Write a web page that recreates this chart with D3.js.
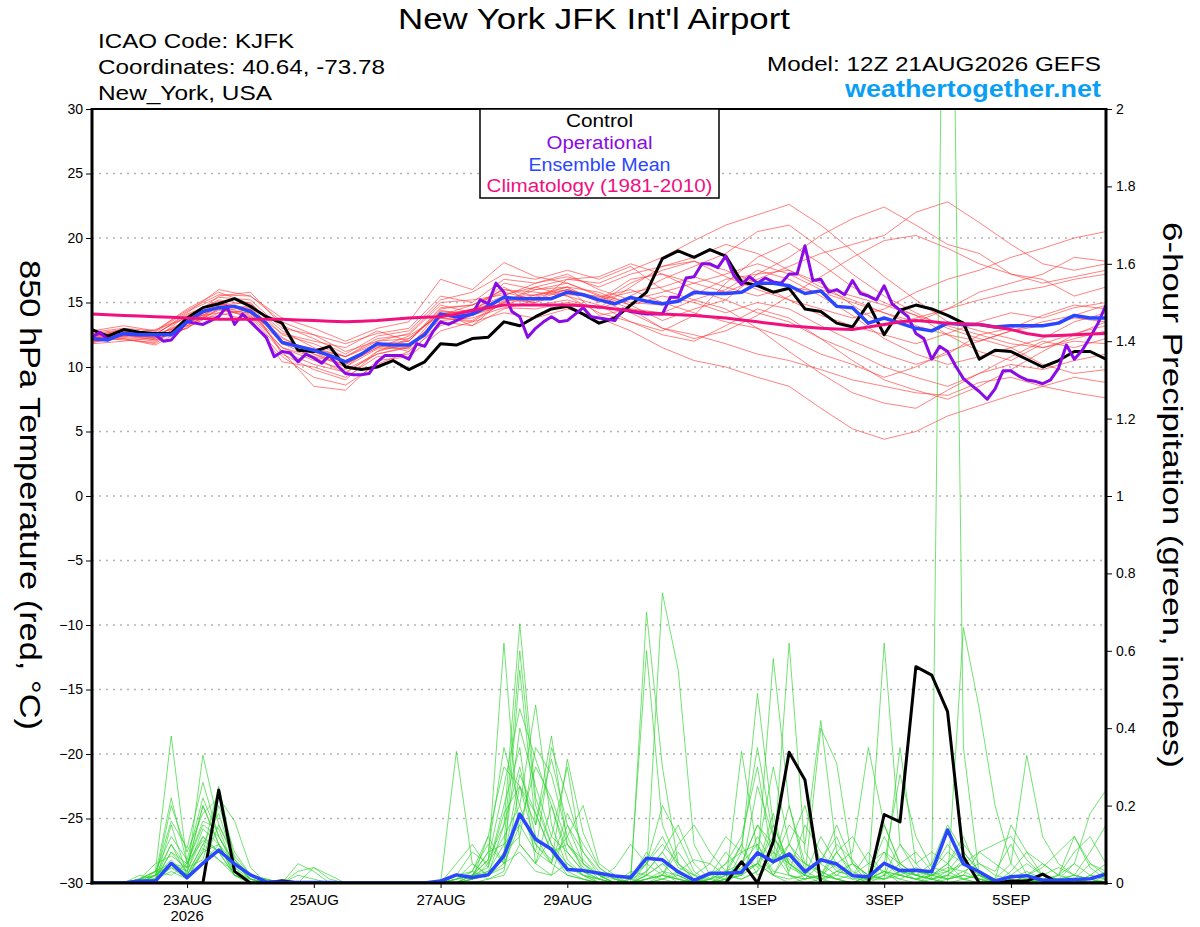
<!DOCTYPE html>
<html>
<head>
<meta charset="utf-8">
<title>New York JFK Int'l Airport</title>
<script src="https://d3js.org/d3.v7.min.js"></script>
<style>
  html, body { margin: 0; padding: 0; background: #fff; }
  svg text { font-family: "Liberation Sans", Arial, Helvetica, sans-serif; }
</style>
</head>
<body>
<div id="chart"></div>
<script>
// forecast hours since 12Z 21AUG2026 (GEFS run), 0..384
var forecastHours = 384;

// date ticks on the time axis (hours after 12Z 21AUG)
var tickHours  = [36, 84, 132, 180, 252, 300, 348];
var tickLabels = ['23AUG', '25AUG', '27AUG', '29AUG', '1SEP', '3SEP', '5SEP'];
var tickYear   = '2026';

var tempTicks   = [-30, -25, -20, -15, -10, -5, 0, 5, 10, 15, 20, 25, 30];
var precipTicks = [0, 0.2, 0.4, 0.6, 0.8, 1, 1.2, 1.4, 1.6, 1.8, 2];

// 850 hPa temperature, 6-hourly
var controlTemp = [12.9,12.4,12.9,12.7,12.6,12.6,13.8,14.6,14.9,15.3,14.7,13.9,13.4,11.3,11.2,11.6,10.0,9.8,10.0,10.5,9.8,10.4,11.8,11.7,12.2,12.3,13.5,13.2,13.9,14.5,14.7,14.1,13.4,13.8,14.8,15.8,18.4,19.0,18.5,19.1,18.6,16.6,16.3,15.8,16.1,14.5,14.3,13.4,13.1,14.9,12.5,14.4,14.8,14.5,14.0,13.4,10.6,11.3,11.2,10.6,10.0,10.5,11.2,11.2,10.6];
var meanTemp = [12.2,12.1,12.6,12.5,12.5,12.5,13.5,14.3,14.6,14.7,14.3,13.4,11.9,11.6,11.3,10.9,10.4,11.0,11.8,11.7,11.7,12.5,14.1,13.9,14.1,14.7,15.4,15.3,15.3,15.3,15.8,15.6,15.2,14.9,15.4,15.1,14.9,15.1,15.8,15.7,15.7,15.8,16.5,16.5,16.3,15.7,15.9,14.7,14.6,13.4,13.8,13.4,13.0,12.8,13.4,13.3,13.3,13.1,13.2,13.2,13.2,13.4,14.0,13.8,13.8];
var climoTemp = [14.1,14.05,14.0,13.95,13.9,13.85,13.8,13.75,13.7,13.7,13.7,13.7,13.7,13.65,13.6,13.55,13.5,13.55,13.6,13.7,13.8,13.85,13.9,14.1,14.4,14.6,14.8,14.8,14.8,14.8,14.8,14.75,14.65,14.5,14.35,14.2,14.1,14.05,14.0,13.9,13.8,13.65,13.5,13.35,13.2,13.1,13.0,12.95,12.9,13.1,13.3,13.5,13.6,13.5,13.4,13.35,13.3,13.1,12.9,12.6,12.4,12.45,12.5,12.55,12.6];

// operational run, 3-hourly
var operationalTemp = [12.3,12.7,12.1,12.4,12.6,12.5,12.5,12.5,12.5,12.0,12.1,12.8,13.5,13.4,13.3,13.6,13.9,14.7,13.3,14.1,13.5,12.9,12.3,10.8,11.2,11.1,10.4,11.0,10.7,10.3,10.9,10.1,9.5,9.4,9.4,9.5,10.4,10.9,10.9,10.9,10.6,11.8,11.6,12.7,13.5,13.3,13.6,13.9,14.1,15.2,14.9,16.5,15.8,14.3,13.9,12.3,13.0,13.5,13.9,13.5,13.6,14.1,14.6,13.9,13.8,13.7,13.6,14.5,14.3,14.2,14.1,14.1,14.1,15.4,15.4,16.9,17.0,18.0,18.0,17.7,18.6,17.1,16.4,17.0,16.5,16.9,16.6,16.5,17.2,17.2,19.4,16.7,16.8,15.8,16.0,15.6,16.7,15.7,15.5,15.2,16.3,14.9,14.4,13.9,12.6,12.2,10.6,11.6,11.2,10.1,9.1,8.6,8.1,7.5,8.3,9.7,9.7,9.3,9.0,8.9,8.7,9.0,9.9,11.7,10.6,11.3,12.3,13.4,14.8];

// ensemble members, 12-hourly
var memberTemps = [
  [12.3,12.8,12.2,14.0,15.2,14.8,12.0,11.0,10.2,11.5,12.0,14.5,14.8,16.0,15.5,16.2,15.0,16.5,17.5,18.2,17.0,16.0,15.2,14.0,13.2,12.5,11.8,12.6,13.5,14.2,13.8,14.6,15.0],
  [12.0,12.4,12.6,13.2,14.5,14.0,11.5,10.5,9.8,11.0,11.5,13.8,13.5,15.0,16.2,15.5,14.2,13.5,12.8,14.0,16.5,18.5,19.6,18.0,16.2,15.0,14.0,12.5,11.2,10.5,11.8,12.6,13.2],
  [12.5,12.2,11.8,13.6,15.5,15.8,13.2,12.2,11.0,12.4,12.8,15.2,15.8,17.2,16.8,17.5,16.8,17.8,16.0,15.2,14.5,13.0,11.2,9.5,8.0,7.2,6.8,8.2,9.5,10.8,12.0,11.5,12.2],
  [12.2,12.6,12.9,13.8,14.2,13.6,10.8,9.2,8.6,10.2,11.2,13.2,14.0,14.8,15.6,16.2,15.8,14.8,13.6,14.5,15.2,17.2,18.5,20.2,21.5,22.4,21.0,19.5,18.8,17.2,16.5,17.0,17.5],
  [11.8,12.0,12.3,13.0,14.8,15.0,12.5,11.8,10.8,12.2,12.5,14.8,14.2,16.2,14.8,15.2,14.5,15.5,16.8,17.8,18.8,20.5,21.0,19.2,17.2,15.5,14.2,13.0,12.2,11.5,10.2,9.5,9.8],
  [12.6,12.9,12.5,14.2,16.0,15.5,13.8,13.0,12.0,13.0,13.5,16.8,16.0,18.1,17.0,16.5,15.5,14.5,13.0,12.2,12.8,14.0,15.5,17.0,18.5,19.8,20.2,19.2,18.0,17.2,16.8,15.5,16.2],
  [12.4,12.7,12.4,13.5,14.0,14.5,11.2,8.5,8.2,10.5,10.8,12.8,13.5,14.2,13.8,14.5,13.8,12.8,11.5,10.5,10.0,9.2,8.5,6.8,5.2,4.4,5.0,6.2,7.0,7.8,8.5,9.2,8.8],
  [12.1,12.5,12.1,13.3,15.0,14.2,12.2,11.2,10.0,11.8,11.2,14.0,14.5,15.5,16.5,17.2,16.0,15.2,15.8,16.5,17.2,18.0,17.2,16.0,15.2,14.2,13.5,14.5,15.8,16.5,17.2,18.5,18.2],
  [12.3,12.1,11.9,13.8,14.8,14.6,11.8,10.8,9.5,11.2,12.2,14.2,13.2,15.2,15.0,16.8,16.5,17.5,18.5,19.8,21.0,21.8,22.6,21.0,19.0,17.0,15.2,13.5,12.8,12.2,11.5,12.0,11.8],
  [12.7,13.0,12.8,14.5,15.8,14.9,12.8,11.5,10.8,11.8,12.0,14.6,14.8,16.0,15.8,15.5,14.8,13.5,12.5,12.0,13.2,14.5,13.8,12.2,10.5,9.0,8.2,7.5,8.5,9.8,11.2,12.5,13.5],
  [11.9,12.3,12.0,13.4,14.6,13.8,10.4,10.0,9.2,10.8,11.0,13.5,13.2,14.5,15.2,16.0,15.2,16.8,17.2,16.5,15.8,16.8,17.8,18.8,19.5,20.2,22.0,22.8,21.2,19.5,18.0,17.5,18.0],
  [12.2,12.5,12.3,13.2,14.4,14.2,11.5,10.8,10.2,11.5,12.4,14.0,14.8,15.8,15.2,15.6,15.5,14.8,15.5,15.0,14.2,15.0,14.5,13.2,12.0,11.0,10.2,11.0,12.5,13.0,14.0,14.8,14.5],
  [12.5,12.8,12.6,13.9,14.9,14.4,12.6,12.0,11.5,12.8,12.0,14.3,14.2,16.5,16.0,16.2,14.0,14.5,14.2,15.2,16.0,17.5,16.8,15.5,14.0,12.2,11.0,10.2,10.8,11.5,12.2,13.5,14.2],
  [12.0,12.2,11.7,13.1,14.2,14.8,11.0,9.8,9.0,11.2,11.8,13.6,13.8,14.6,14.5,15.0,14.6,16.2,17.8,18.5,19.5,18.8,17.5,16.5,14.8,13.2,13.8,14.5,15.2,15.8,16.2,16.8,17.2],
  [12.6,12.4,12.7,14.3,15.4,15.2,13.0,12.5,11.2,12.0,12.6,15.0,15.2,15.6,16.2,16.8,17.0,18.0,17.2,16.0,15.2,14.2,13.5,12.2,11.2,10.0,9.2,8.5,9.5,10.2,9.8,10.5,11.0],
  [12.3,12.6,12.4,13.6,14.7,14.1,11.9,11.2,10.5,11.6,11.4,14.1,14.4,15.3,15.6,16.0,15.2,15.8,16.2,17.0,16.2,15.5,16.2,15.8,15.0,14.2,13.2,12.5,12.0,12.8,13.2,13.8,13.5],
  [12.4,12.9,12.5,14.1,15.1,14.4,12.3,11.0,10.0,11.4,11.5,14.4,14.0,15.0,16.0,16.5,15.6,15.0,14.8,15.6,16.8,17.2,17.5,16.2,15.5,14.8,14.0,13.2,12.5,11.8,11.5,12.2,12.8],
  [11.9,12.4,12.1,13.0,14.5,13.9,11.2,10.2,9.6,11.0,11.6,13.8,13.6,15.1,15.4,16.0,15.4,16.0,15.0,14.2,13.5,13.0,12.2,11.0,10.2,9.2,10.0,11.2,12.0,12.8,13.5,14.0,14.8],
  [12.8,13.2,12.8,14.4,15.6,15.5,13.5,12.5,11.8,12.6,13.0,15.5,15.0,16.8,16.5,17.0,16.2,17.2,17.8,18.2,17.5,16.5,15.2,14.5,13.8,14.5,15.8,16.8,17.5,18.5,19.2,20.0,20.5],
  [12.1,12.5,12.2,13.4,14.7,14.5,12.0,11.4,10.8,12.0,12.2,14.2,14.2,15.4,15.0,15.8,15.2,14.2,13.0,12.5,11.8,11.0,10.5,9.8,9.0,8.5,8.0,7.8,8.8,9.2,8.5,8.0,7.6]
];

// 6-hour precipitation (inches), 6-hourly
var controlPrecip = [0,0,0,0,0,0,0,0,0.24,0.03,0,0,0.006,0,0,0,0,0,0,0,0,0,0,0,0,0,0,0,0,0,0,0,0,0,0,0,0,0,0,0,0,0.055,0,0.107,0.338,0.266,0,0,0,0,0.177,0.158,0.559,0.537,0.443,0.068,0,0,0.005,0.005,0.023,0,0,0,0];
var meanPrecip = [0,0,0,0.005,0.005,0.051,0.014,0.051,0.085,0.049,0.021,0.003,0.002,0.001,0.001,0.001,0,0,0,0,0,0,0.005,0.021,0.014,0.021,0.07,0.178,0.113,0.087,0.035,0.032,0.025,0.018,0.014,0.064,0.06,0.029,0.007,0.025,0.025,0.028,0.078,0.055,0.075,0.029,0.06,0.049,0.019,0.016,0.051,0.032,0.033,0.029,0.137,0.049,0.029,0.005,0.016,0.019,0.007,0.007,0.009,0.011,0.023];

var memberPrecips = [
  [0,0,0,0.01,0.03,0.38,0.05,0.12,0.08,0.02,0,0,0, 0,0,0,0,0,0,0,0,0,0,0.01,0.05,0.02, 0.15,0.67,0.22,0.1,0.03,0.01,0,0,0,0.02,0.05,0.01,0, 0,0.01,0.05,0.1,0.03,0.02,0,0.01,0.08,0.02,0,0.05,0.03, 0.01,0,0.02,0.06,0.01,0,0,0.01,0,0,0,0.02,0.05],
  [0,0,0,0,0.01,0.1,0.02,0.33,0.15,0.06,0.01,0,0, 0,0,0,0,0,0,0,0,0,0,0,0.02,0.08, 0.35,0.2,0.46,0.15,0.04,0.02,0,0,0.01,0.08,0.03,0,0, 0.01,0.03,0.02,0.12,0.05,0.62,0.08,0.02,0.01,0,0.01,0.03,0.01, 0,0.02,0.03,0.01,0,0,0,0,0.02,0,0,0,0],
  [0,0,0,0.02,0.01,0.2,0.08,0.18,0.22,0.16,0.04,0,0, 0.05,0.03,0,0,0,0,0,0,0,0,0.02,0.01,0.12, 0.05,0.55,0.15,0.38,0.1,0.05,0.02,0,0,0,0.01,0,0.01, 0,0,0.34,0.08,0.02,0,0.01,0.02,0.01,0,0.02,0.01,0.35, 0.05,0.01,0,0.01,0.02,0,0,0.02,0.01,0,0,0.02,0.01],
  [0,0,0,0,0,0.15,0.02,0.08,0.25,0.06,0.02,0.01,0, 0,0,0,0,0,0,0,0,0,0,0.01,0.03,0.01, 0.03,0.25,0.1,0.05,0.32,0.13,0.04,0.01,0,0.7,0.3,0.05,0.01, 0,0.02,0.01,0.03,0.15,0.05,0.01,0.02,0.08,0.12,0.05,0.03,0, 0,0.01,3.5,0.35,0.02,0,0,0,0.01,0,0,0,0],
  [0,0,0,0.01,0.05,0.07,0.04,0.2,0.1,0.03,0,0,0, 0,0.04,0.02,0,0,0,0,0,0,0,0.05,0.1,0.04, 0.2,0.35,0.05,0.2,0.08,0.03,0.01,0,0.03,0.02,0.75,0.55,0.1, 0.02,0.01,0.03,0.05,0.12,0.04,0.02,0,0.03,0.05,0.02,0.01,0.03, 0.02,0.01,0,0.66,0.45,0.2,0.05,0.01,0,0,0,0,0.02],
  [0,0,0,0,0.02,0.16,0.09,0.26,0.12,0.05,0.01,0,0, 0,0,0,0,0,0,0,0,0,0,0,0.01,0.03, 0.1,0.15,0.3,0.22,0.1,0.06,0.02,0,0.01,0.05,0.12,0.04,0.02, 0.01,0,0.08,0.49,0.15,0.05,0.02,0.4,0.31,0.05,0,0.02,0.05, 0.08,0.03,0.01,0.02,0.08,0.1,0.12,0.06,0.02,0,0,0.01,0.02],
  [0,0,0,0.01,0.03,0.05,0.02,0.1,0.18,0.05,0.01,0,0, 0,0,0,0,0,0,0,0,0,0,0.02,0.08,0.05, 0.62,0.1,0.05,0.02,0.15,0.05,0.02,0.01,0,0.01,0.02,0.08,0.02, 0,0.03,0.1,0.02,0.05,0.2,0.05,0.03,0.01,0,0.02,0.62,0.1, 0.03,0.02,0.05,0.01,0,0,0.03,0.08,0.05,0.02,0.12,0.04,0.01],
  [0,0,0,0,0.01,0.08,0.03,0.14,0.1,0.02,0.01,0,0, 0,0,0,0,0,0,0,0,0,0,0.34,0.05,0.02, 0.05,0.15,0.08,0.35,0.22,0.08,0.02,0,0,0.02,0.01,0.03,0.06, 0.05,0.02,0.01,0.03,0.08,0.05,0.02,0.06,0.04,0.01,0.01,0.03,0.02, 0.01,0.02,0.05,0.12,0.02,0.01,0.05,0.33,0.12,0.05,0.02,0.08,0.15],
  [0,0,0,0,0.02,0.05,0.04,0.2,0.1,0.03,0,0,0, 0,0,0,0,0,0,0,0,0,0,0,0.01,0.02, 0.08,0.4,0.25,0.12,0.3,0.05,0.01,0,0,0.01,0.02,0.1,0.15, 0.08,0.03,0.02,0.08,0.3,0.1,0.05,0.03,0.01,0.02,0.05,0.08,0.02, 0.01,0,0.01,0.02,0.01,0.01,0.15,0.08,0.02,0.01,0.05,0.18,0.24],
  [0,0,0,0.01,0.02,0.22,0.05,0.15,0.12,0.04,0,0,0, 0,0,0,0,0,0,0,0,0,0,0.02,0.03,0.12, 0.3,0.25,0.18,0.08,0.02,0.01,0,0,0.02,0.6,0.15,0.05,0.01, 0,0.02,0.05,0.15,0.08,0.02,0.01,0.05,0.15,0.05,0.02,0.15,0.05, 0.02,0.03,0.08,0.05,0.01,0,0,0,0,0.01,0.02,0.01,0],
  [0,0,0,0,0,0.05,0.02,0.05,0.15,0.07,0.02,0.01,0, 0.03,0.04,0.01,0,0,0,0,0,0,0,0.01,0.02,0.02, 0.08,0.12,0.35,0.28,0.12,0.03,0.01,0.04,0.1,0.05,0.02,0.01,0, 0,0,0.03,0.25,0.12,0.06,0.02,0.01,0.03,0.02,0.01,0.05,0.28, 0.12,0.04,0.03,0.05,0.02,0,0,0,0.01,0.01,0,0,0.01],
  [0,0,0,0,0.03,0.12,0.06,0.22,0.12,0.05,0.01,0,0, 0,0,0,0,0,0,0,0,0,0,0,0.02,0.06, 0.15,0.3,0.12,0.05,0.02,0.01,0,0,0.01,0.03,0.08,0.02,0, 0.01,0.05,0.12,0.3,0.05,0.15,0.1,0.42,0.08,0.03,0.01,0.02,0.01, 0.03,0.02,0.01,0.03,0.05,0.03,0.1,0.02,0,0,0.01,0.05,0.03],
  [0,0,0,0,0.01,0.03,0.01,0.08,0.1,0.05,0.02,0,0, 0,0,0,0,0,0,0,0,0,0,0,0.03,0.1, 0.05,0.08,0.03,0.02,0.05,0.02,0,0,0,0.05,0.2,0.12,0.03, 0,0.01,0.02,0.05,0.58,0.2,0.03,0.01,0.02,0.05,0.02,0.12,0.04, 0.02,0.01,0.03,0.08,0.03,0.01,0,0.02,0.05,0.02,0.01,0,0],
  [0,0,0,0,0.02,0.05,0.03,0.12,0.08,0.02,0,0,0, 0,0,0,0,0,0,0,0,0,0,0.01,0.02,0.08, 0.1,0.6,0.2,0.1,0.05,0.02,0.01,0,0,0.02,0.05,0.03,0.01, 0.02,0.05,0.08,0.1,0.02,0.01,0.02,0.12,0.05,0.02,0.01,0.05,0.02, 0.01,0.02,0.04,0.03,0.01,0,0,0,0,0.02,0.08,0.12,0.05],
  [0,0,0,0.01,0.02,0.1,0.04,0.06,0.2,0.08,0.02,0,0, 0,0,0,0,0,0,0,0,0,0,0,0,0.01, 0.02,0.1,0.05,0.12,0.08,0.03,0,0,0,0,0.01,0.02,0, 0,0.01,0.02,0.05,0.02,0.1,0.2,0.05,0.02,0.01,0.02,0.08,0.05, 0.02,0.01,0.02,0.05,0.08,0.05,0.02,0.01,0,0,0,0.01,0],
  [0,0,0,0,0.01,0.04,0.02,0.05,0.1,0.02,0,0,0, 0,0,0,0,0,0,0,0,0,0,0.01,0.02,0.04, 0.18,0.25,0.15,0.32,0.15,0.08,0.03,0.01,0,0.01,0.02,0.01,0, 0.01,0.02,0.1,0.35,0.12,0.05,0.02,0.01,0,0,0.02,0.01,0.02, 0.04,0.02,0.01,0.02,0.01,0,0.01,0.03,0.01,0,0,0,0],
  [0,0,0,0,0.02,0.06,0.02,0.1,0.06,0.03,0.01,0,0, 0,0,0,0,0,0,0,0,0,0,0,0.01,0.05, 0.12,0.2,0.08,0.05,0.18,0.1,0.04,0.01,0.02,0.05,0.1,0.05,0.02, 0.05,0.12,0.08,0.04,0.18,0.02,0.01,0.02,0.05,0.08,0.35,0.15,0.05, 0.02,0.01,0.02,0.01,0.02,0.01,0,0.02,0.04,0.08,0.12,0.05,0.02],
  [0,0,0,0,0.01,0.08,0.05,0.16,0.14,0.04,0.01,0,0, 0,0,0,0,0,0,0,0,0,0,0,0.02,0.06, 0.25,0.45,0.32,0.2,0.06,0.02,0.01,0,0,0.01,0.03,0.02,0, 0,0.01,0.04,0.08,0.05,0.1,0.03,0.06,0.12,0.02,0.01,0.03,0.02, 0.01,0.03,0.1,0.05,0.02,0,0.02,0.05,0.02,0.01,0.02,0.01,0],
  [0,0,0,0.01,0.03,0.02,0.05,0.11,0.08,0.06,0.02,0.01,0, 0.02,0.01,0,0,0,0,0,0,0,0,0,0.02,0.03, 0.06,0.28,0.18,0.08,0.1,0.04,0.02,0,0,0.03,0.08,0.15,0.05, 0.01,0.03,0.05,0.15,0.1,0.03,0.15,0.08,0.03,0.02,0.08,0.02,0.1, 0.05,0.08,0.05,0.1,0.05,0.02,0.01,0,0.01,0.02,0.05,0.02,0.01],
  [0,0,0,0,0.01,0.04,0.01,0.09,0.06,0.02,0,0,0, 0,0,0,0,0,0,0,0,0,0,0,0.01,0.02, 0.04,0.18,0.1,0.06,0.12,0.2,0.05,0.02,0.01,0,0.02,0.01,0, 0.02,0.08,0.03,0.05,0.02,0.08,0.05,0.02,0.1,0.06,0.01,0.01,0.03, 0.02,0.05,0.15,0.08,0.03,0.01,0,0.01,0.02,0.04,0.02,0.01,0.03]
];

var legendItems  = ['Control', 'Operational', 'Ensemble Mean', 'Climatology (1981-2010)'];
var legendColors = ['#000000', '#8a0be6', '#2a46ff', '#f0117f'];
var legendWidths = [67, 106, 142, 226];

(function(d3) {

  var width  = 1200;
  var height = 927;

  var left = 92, right = 1106, top = 109, bottom = 883;

  var x  = d3.scaleLinear().domain([0, forecastHours]).range([left, right]);
  var yT = d3.scaleLinear().domain([-30, 30]).range([bottom, top]);
  var yP = d3.scaleLinear().domain([0, 2]).range([bottom, top]);

  // a series is spread evenly over the forecast period, whatever its step
  var line = function(yScale) {
    return d3.line()
      .x(function(d, i, arr) { return x(i * forecastHours / (arr.length - 1)); })
      .y(function(d) { return yScale(d); });
  };

  var svg = d3.select('#chart').append('svg')
      .attr('width', width)
      .attr('height', height);

  svg.append('rect').attr('width', width).attr('height', height).attr('fill', '#fff');

  svg.append('clipPath').attr('id', 'plotclip')
    .append('rect')
      .attr('x', left).attr('y', top)
      .attr('width', right - left).attr('height', bottom - top);

  // dotted grid
  svg.append('g').selectAll('line')
      .data(tempTicks.filter(function(t) { return t > -30 && t < 30; }))
    .enter().append('line')
      .attr('x1', left).attr('x2', right)
      .attr('y1', function(d) { return yT(d); })
      .attr('y2', function(d) { return yT(d); })
      .attr('stroke', '#b4b4b4')
      .attr('stroke-width', 1.3)
      .attr('stroke-dasharray', '2,5');

  var plot = svg.append('g').attr('clip-path', 'url(#plotclip)');

  var path = function(data, yScale, color, w, opacity) {
    plot.append('path')
      .datum(data)
      .attr('fill', 'none')
      .attr('stroke', color)
      .attr('stroke-width', w)
      .attr('stroke-opacity', opacity || 1)
      .attr('stroke-linejoin', 'round')
      .attr('d', line(yScale));
  };

  memberTemps.forEach(function(m) { path(m, yT, '#ff3b3b', 0.8, 0.8); });
  memberPrecips.forEach(function(m) { path(m, yP, '#2fd42f', 0.8, 0.85); });

  path(controlTemp,     yT, '#000000', 3);
  path(controlPrecip,   yP, '#000000', 3);
  path(operationalTemp, yT, '#8a0be6', 3);
  path(meanTemp,        yT, '#2a46ff', 3.5);
  path(meanPrecip,      yP, '#2a46ff', 3.5);
  path(climoTemp,       yT, '#f0117f', 3);

  // axes
  var styleAxis = function(g, fontSize) {
    g.selectAll('text').attr('font-size', fontSize).attr('fill', '#000')
      .attr('font-family', '"Liberation Sans", Arial, sans-serif');
    g.selectAll('.tick line').attr('stroke', '#000').attr('stroke-width', 1);
    g.select('.domain').remove();
  };

  var axL = svg.append('g').attr('transform', 'translate(' + left + ',0)')
    .call(d3.axisLeft(yT).tickValues(tempTicks).tickSize(6).tickPadding(3)
      .tickFormat(d3.format('d')));
  styleAxis(axL, 14);

  var axR = svg.append('g').attr('transform', 'translate(' + right + ',0)')
    .call(d3.axisRight(yP).tickValues(precipTicks).tickSize(6).tickPadding(4)
      .tickFormat(d3.format('~g')));
  styleAxis(axR, 14);

  var axB = svg.append('g').attr('transform', 'translate(0,' + bottom + ')')
    .call(d3.axisBottom(x).tickValues(tickHours).tickSize(5).tickPadding(6)
      .tickFormat(function(d, i) { return tickLabels[i]; }));
  styleAxis(axB, 15);

  svg.append('text')
    .attr('x', x(tickHours[0])).attr('y', 921)
    .attr('text-anchor', 'middle').attr('font-size', 15)
    .text(tickYear);

  // frame: heavy left, bottom, right, light top
  svg.append('line').attr('x1', left).attr('x2', right).attr('y1', top).attr('y2', top)
    .attr('stroke', '#000').attr('stroke-width', 2);
  svg.append('line').attr('x1', left).attr('x2', left).attr('y1', top - 1).attr('y2', bottom + 1.5)
    .attr('stroke', '#000').attr('stroke-width', 3);
  svg.append('line').attr('x1', right).attr('x2', right).attr('y1', top - 1).attr('y2', bottom + 1.5)
    .attr('stroke', '#000').attr('stroke-width', 3);
  svg.append('line').attr('x1', left - 1.5).attr('x2', right + 1.5).attr('y1', bottom).attr('y2', bottom)
    .attr('stroke', '#000').attr('stroke-width', 3);

  // legend
  var lg = svg.append('g');
  lg.append('rect')
    .attr('x', 480).attr('y', top).attr('width', 239).attr('height', 89)
    .attr('fill', '#fff').attr('stroke', '#000').attr('stroke-width', 1.5);
  lg.selectAll('text').data(legendItems).enter().append('text')
    .attr('x', 599.5)
    .attr('y', function(d, i) { return 127 + i * 21.8; })
    .attr('text-anchor', 'middle')
    .attr('font-size', 18)
    .attr('textLength', function(d, i) { return legendWidths[i]; })
    .attr('lengthAdjust', 'spacingAndGlyphs')
    .attr('fill', function(d, i) { return legendColors[i]; })
    .text(function(d) { return d; });

  // titles
  var txt = function(s, xx, yy, size, anchor, len) {
    var t = svg.append('text')
      .attr('x', xx).attr('y', yy)
      .attr('font-size', size)
      .attr('text-anchor', anchor)
      .text(s);
    if (len) { t.attr('textLength', len).attr('lengthAdjust', 'spacingAndGlyphs'); }
    return t;
  };

  txt("New York JFK Int'l Airport", 594, 29, 30, 'middle', 392);
  txt('ICAO Code: KJFK', 98, 48, 21, 'start', 196);
  txt('Coordinates: 40.64, -73.78', 98, 74, 21, 'start', 287);
  txt('New_York, USA', 98, 100, 21, 'start', 174);
  txt('Model: 12Z 21AUG2026 GEFS', 1101, 71, 21, 'end', 334);
  txt('weathertogether.net', 1101, 97, 23, 'end', 256)
    .attr('font-weight', 'bold').attr('fill', '#0a9ff5');

  svg.append('text')
    .attr('transform', 'translate(20,495) rotate(90)')
    .attr('text-anchor', 'middle')
    .attr('font-size', 29)
    .attr('textLength', 470).attr('lengthAdjust', 'spacingAndGlyphs')
    .text('850 hPa Temperature (red, \u00B0C)');

  svg.append('text')
    .attr('transform', 'translate(1163,495) rotate(90)')
    .attr('text-anchor', 'middle')
    .attr('font-size', 28)
    .attr('textLength', 546).attr('lengthAdjust', 'spacingAndGlyphs')
    .text('6-hour Precipitation (green, inches)');

}(d3));
</script>
</body>
</html>
